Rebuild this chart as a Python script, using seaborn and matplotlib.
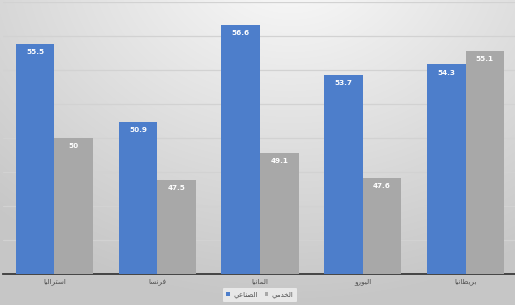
import unicodedata
import numpy as np
import pandas as pd
import matplotlib
matplotlib.use("Agg")
import matplotlib.pyplot as plt
import seaborn as sns

# PMI readings by region
regions = ["استراليا", "فرنسا", "المانيا", "اليورو", "بريطانيا"]
series = ["الصناعي", "الخدمي"]
industrial = [55.5, 50.9, 56.6, 53.7, 54.3]
services = [50.0, 47.5, 49.1, 47.6, 55.1]

COLORS = ["#4d7ecb", "#a8a8a8"]

# Letters that only connect to the preceding letter
RIGHT_JOINING = set("اأإآدذرزوؤة")


def _is_arabic(ch):
    return "\u0621" <= ch <= "\u064A"


def shape(text):
    """Convert logical Arabic text to presentation forms in visual order."""
    out = []
    n = len(text)
    for i, c in enumerate(text):
        if not _is_arabic(c):
            out.append(c)
            continue
        prev_j = i > 0 and _is_arabic(text[i - 1]) and text[i - 1] not in RIGHT_JOINING
        next_j = i < n - 1 and _is_arabic(text[i + 1]) and c not in RIGHT_JOINING
        if prev_j and next_j:
            form = "MEDIAL"
        elif prev_j:
            form = "FINAL"
        elif next_j:
            form = "INITIAL"
        else:
            form = "ISOLATED"
        name = unicodedata.name(c)
        glyph = c
        for f in (form, "FINAL" if prev_j else "ISOLATED", "ISOLATED"):
            try:
                glyph = unicodedata.lookup(f"{name} {f} FORM")
                break
            except KeyError:
                continue
        out.append(glyph)
    return "".join(reversed(out))


df = pd.DataFrame({
    "region": regions * 2,
    "series": [series[0]] * len(regions) + [series[1]] * len(regions),
    "value": industrial + services,
})
df["region_disp"] = df["region"].map(shape)
df["series_disp"] = df["series"].map(shape)

sns.set_theme(style="white")
plt.rcParams["font.family"] = ["DejaVu Sans"]

W, H = 515, 305
fig = plt.figure(figsize=(W / 100, H / 100), dpi=100)

# soft radial backdrop
bg = fig.add_axes([0, 0, 1, 1], zorder=-10)
yy, xx = np.mgrid[0:H, 0:W]
d = np.sqrt(((xx - 290) / 420.0) ** 2 + ((yy + 40) / 330.0) ** 2)
shade = np.clip(0.985 - 0.20 * d, 0.78, 1.0)
bg.imshow(np.dstack([shade] * 3), aspect="auto", extent=[0, 1, 0, 1])
bg.set_axis_off()

ax = fig.add_axes([3 / W, 31.5 / H, 514 / W, 272 / H])
ax.set_facecolor("none")

sns.barplot(
    data=df, x="region_disp", y="value", hue="series_disp",
    order=[shape(r) for r in regions],
    hue_order=[shape(s) for s in series],
    palette=COLORS, width=0.75, saturation=1, ax=ax, zorder=3,
    linewidth=0, edgecolor="none",
)

ax.set_ylim(42, 58)
ax.set_xlim(-0.5, 4.5)
ax.set_yticks(np.arange(42, 59, 2))
ax.yaxis.grid(True, color="#d2d2d2", linewidth=0.9, zorder=0)
ax.set_axisbelow(True)
ax.tick_params(axis="y", left=False, labelleft=False)
ax.tick_params(axis="x", bottom=False, labelsize=5.2, colors="#505050", pad=-2.5)
ax.set_xlabel("")
ax.set_ylabel("")
for s in ["top", "right", "left"]:
    ax.spines[s].set_visible(False)
ax.spines["bottom"].set_color("#3a3a3a")
ax.spines["bottom"].set_linewidth(1.3)

for cont in ax.containers:
    ax.bar_label(cont, fmt="%g", padding=-8, color="white",
                 fontsize=5.2, fontweight="semibold")

leg = ax.legend(
    loc="center", bbox_to_anchor=(260 / W, 10 / H),
    bbox_transform=fig.transFigure,
    ncol=2, fontsize=5.0, frameon=True, handlelength=0.5, handleheight=0.5,
    handletextpad=0.5, columnspacing=1.0, borderpad=0.55,
)
leg.get_frame().set_facecolor("#ececec")
leg.get_frame().set_edgecolor("none")
leg.get_frame().set_alpha(0.9)
for t in leg.get_texts():
    t.set_color("#505050")

fig.savefig("out.png", dpi=100)
